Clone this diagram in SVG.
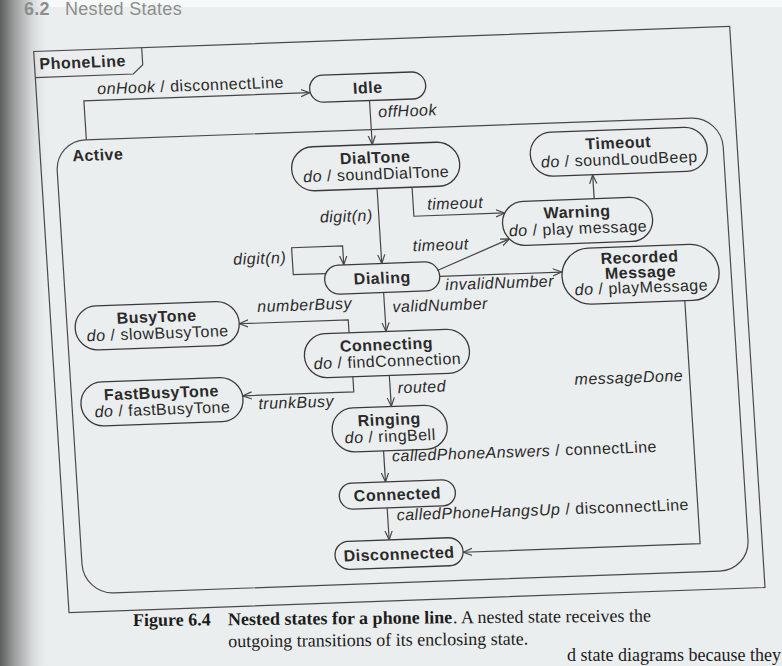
<svg xmlns="http://www.w3.org/2000/svg" width="782" height="666" viewBox="0 0 782 666">
<defs>
  <linearGradient id="gutter" x1="0" y1="0" x2="1" y2="0">
    <stop offset="0" stop-color="#5c5d5d"/>
    <stop offset="0.3" stop-color="#9fa1a1"/>
    <stop offset="0.65" stop-color="#d6d9d9"/>
    <stop offset="1" stop-color="#eaeded" stop-opacity="0"/>
  </linearGradient>
  <marker id="arr" viewBox="0 0 10 10" refX="10" refY="5" markerWidth="9" markerHeight="9" markerUnits="userSpaceOnUse" orient="auto">
    <path d="M0,1 L10,5 L0,9" fill="none" stroke="#454545" stroke-width="1.3"/>
  </marker>
  <style>
    .state{fill:none;stroke:#3a3a3a;stroke-width:1.3}
    .frame{fill:none;stroke:#4a4a4a;stroke-width:1.2}
    .conn path{fill:none;stroke:#454545;stroke-width:1.2;marker-end:url(#arr)}
    text{font-family:"Liberation Sans",Arial,sans-serif;font-size:16px;letter-spacing:0.5px;fill:#2a2a2a}
    .name{font-weight:bold;text-anchor:middle}
    .act{text-anchor:middle}
    .ev{font-style:italic}
    .end{text-anchor:end}
    .cap{font-family:"Liberation Serif","Times New Roman",serif;font-size:18px;letter-spacing:0;fill:#1c1c1c}
    .capb{font-weight:bold}
    .head{font-size:18px;fill:#8c8e8e;letter-spacing:0.3px}
  </style>
</defs>

<!-- page -->
<rect x="0" y="0" width="782" height="666" fill="#ebeeee"/>
<rect x="0" y="0" width="782" height="7" fill="#f7f8f8"/>
<rect x="0" y="0" width="50" height="666" fill="url(#gutter)"/>

<!-- running head -->
<text class="head" x="24" y="15" font-weight="bold">6.2</text>
<text class="head" x="65" y="15">Nested States</text>

<!-- diagram, slightly tilted on the page -->
<g transform="matrix(1,-0.036,0.063,1,-20.79,14.4)">

  <g id="phoneLine">
    <rect class="frame" x="52" y="39" width="696" height="561"/>
    <path class="frame" d="M52,65 H150 L160,56 V39"/>
    <text x="57" y="57" font-weight="bold">PhoneLine</text>
  </g>

  <g id="active">
    <rect class="frame" x="68" y="129" width="666" height="453" rx="30"/>
    <text x="84" y="150" font-weight="bold">Active</text>
  </g>

  <g id="idle">
    <rect class="state" x="325" y="73" width="116" height="27" rx="13.5"/>
    <text class="name" x="383" y="92.5">Idle</text>
  </g>

  <g id="dialTone">
    <rect class="state" x="302" y="144" width="168" height="44" rx="22"/>
    <text class="name" x="386" y="162.5">DialTone</text>
    <text class="act" x="386" y="179"><tspan class="ev">do</tspan> / soundDialTone</text>
  </g>

  <g id="timeout">
    <rect class="state" x="541" y="138" width="177" height="44" rx="22"/>
    <text class="name" x="629.5" y="156.5">Timeout</text>
    <text class="act" x="629.5" y="173"><tspan class="ev">do</tspan> / soundLoudBeep</text>
  </g>

  <g id="warning">
    <rect class="state" x="509" y="206" width="150" height="44" rx="22"/>
    <text class="name" x="584" y="224">Warning</text>
    <text class="act" x="584" y="240.5"><tspan class="ev">do</tspan> / play message</text>
  </g>

  <g id="dialing">
    <rect class="state" x="328" y="263" width="115" height="29" rx="14.5"/>
    <text class="name" x="385.5" y="283">Dialing</text>
  </g>

  <g id="recordedMessage">
    <rect class="state" x="565" y="255" width="157" height="56" rx="28"/>
    <text class="name" x="643.5" y="271.5">Recorded</text>
    <text class="name" x="643.5" y="286.5">Message</text>
    <text class="act" x="643.5" y="301.5"><tspan class="ev">do</tspan> / playMessage</text>
  </g>

  <g id="busyTone">
    <rect class="state" x="76" y="295" width="164" height="44" rx="22"/>
    <text class="name" x="158" y="313.5">BusyTone</text>
    <text class="act" x="158" y="330"><tspan class="ev">do</tspan> / slowBusyTone</text>
  </g>

  <g id="connecting">
    <rect class="state" x="303" y="331" width="165" height="44" rx="22"/>
    <text class="name" x="385.5" y="349.5">Connecting</text>
    <text class="act" x="385.5" y="366"><tspan class="ev">do</tspan> / findConnection</text>
  </g>

  <g id="fastBusyTone">
    <rect class="state" x="77" y="371" width="162" height="44" rx="22"/>
    <text class="name" x="158" y="389.5">FastBusyTone</text>
    <text class="act" x="158" y="406"><tspan class="ev">do</tspan> / fastBusyTone</text>
  </g>

  <g id="ringing">
    <rect class="state" x="326" y="406" width="115" height="44" rx="22"/>
    <text class="name" x="383.5" y="424.5">Ringing</text>
    <text class="act" x="383.5" y="441"><tspan class="ev">do</tspan> / ringBell</text>
  </g>

  <g id="connected">
    <rect class="state" x="329" y="481" width="116" height="26" rx="13"/>
    <text class="name" x="387" y="499.5">Connected</text>
  </g>

  <g id="disconnected">
    <rect class="state" x="321" y="539" width="128" height="28" rx="14"/>
    <text class="name" x="385" y="559">Disconnected</text>
  </g>

  <!-- transitions -->
  <g id="connectors" class="conn">
    <path d="M99,129 V90 H325"/>
    <path d="M384,100 V144"/>
    <path d="M386,188 V263"/>
    <path d="M421,188 V217 H512"/>
    <path d="M329.5,271 H297 V244 H348 V263"/>
    <path d="M441,272 L515,243"/>
    <path d="M443,278 H565"/>
    <path d="M602,206 V182"/>
    <path d="M386,292 V331"/>
    <path d="M349,331 V318 H240"/>
    <path d="M350,375 V390 H239"/>
    <path d="M386.5,375 V406"/>
    <path d="M376,450 V481"/>
    <path d="M376,507 V539"/>
    <path d="M686,311 V554 H449"/>
  </g>

  <g id="labels">
    <text x="113" y="84"><tspan class="ev">onHook</tspan> / disconnectLine</text>
    <text class="ev" x="392" y="117">offHook</text>
    <text class="ev end" x="380" y="220">digit(n)</text>
    <text class="ev" x="435" y="211">timeout</text>
    <text class="ev end" x="291" y="259">digit(n)</text>
    <text class="ev" x="418" y="252">timeout</text>
    <text class="ev" x="448" y="292">invalidNumber</text>
    <text class="ev" x="394" y="312">validNumber</text>
    <text class="ev" x="259" y="307">numberBusy</text>
    <text class="ev" x="254" y="404">trunkBusy</text>
    <text class="ev" x="394" y="393">routed</text>
    <text x="384" y="461"><tspan class="ev">calledPhoneAnswers</tspan> / connectLine</text>
    <text x="385" y="520"><tspan class="ev">calledPhoneHangsUp</tspan> / disconnectLine</text>
    <text class="ev" x="571" y="391">messageDone</text>
  </g>
</g>

<!-- caption and body text -->
<g transform="rotate(-0.5 133 626)">
  <text class="cap capb" x="133" y="626">Figure 6.4</text>
  <text class="cap capb" x="228" y="626">Nested states for a phone line</text>
  <text class="cap" x="453" y="626">. A nested state receives the</text>
  <text class="cap" x="228" y="648">outgoing transitions of its enclosing state.</text>
</g>
<text class="cap" x="781" y="661" text-anchor="end">d state diagrams because they</text>
</svg>
